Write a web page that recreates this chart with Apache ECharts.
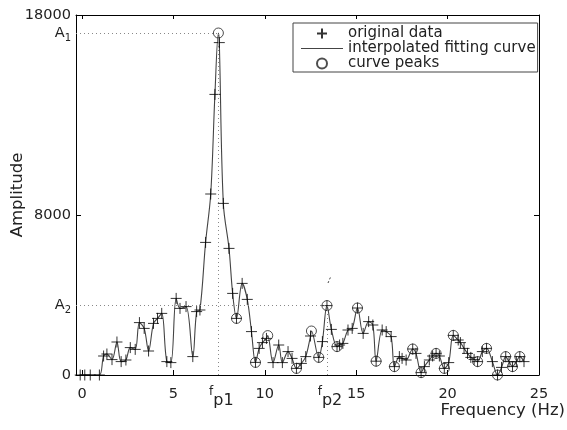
<!DOCTYPE html>
<html>
<head>
<meta charset="utf-8">
<title>Amplitude spectrum</title>
<script src="https://cdn.jsdelivr.net/npm/echarts@6/dist/echarts.min.js"></script>
<style>
  html, body { margin: 0; padding: 0; background: #fff; }
  #EchartsOne { width: 567px; height: 430px; }
</style>
</head>
<body>
<div id="EchartsOne"></div>
<script>
// original data (frequency in Hz, amplitude)
var freqs = [-0.1, 0.15, 0.45, 0.95, 1.18, 1.36, 1.64, 1.91, 2.14, 2.4, 2.64, 2.91, 3.14, 3.4, 3.64, 3.91, 4.13, 4.36, 4.64, 4.86,
  5.15, 5.36, 5.69, 6.06, 6.27, 6.45, 6.76, 7.04, 7.27, 7.51, 7.73, 8.04, 8.24, 8.45, 8.76, 9.04, 9.27, 9.49, 9.69, 9.87,
  10.09, 10.45, 10.76, 10.96, 11.27, 11.49, 11.73, 12.0, 12.24, 12.5, 12.95, 13.15, 13.4, 13.64, 13.95, 14.09, 14.27, 14.55, 14.78, 15.07,
  15.38, 15.68, 15.91, 16.09, 16.42, 16.64, 16.91, 17.09, 17.36, 17.51, 17.73, 18.09, 18.27, 18.55, 18.73, 19.0, 19.18, 19.37, 19.55, 19.82,
  20.06, 20.31, 20.58, 20.7, 20.9, 21.09, 21.27, 21.45, 21.64, 21.9, 22.13, 22.45, 22.73, 22.95, 23.18, 23.36, 23.55, 23.76, 23.95, 24.18];
var amps = [0, 0, 0, 0, 950, 1050, 770, 1650, 670, 750, 1370, 1280, 2620, 2330, 1200, 2580, 2830, 3080, 670, 620,
  3830, 3330, 3420, 920, 3170, 3250, 6630, 9050, 14030, 16620, 8580, 6330, 4080, 2830, 4580, 3780, 2170, 630, 1330, 1620,
  1830, 620, 1500, 620, 1170, 830, 330, 580, 920, 1950, 880, 1670, 3470, 2280, 1420, 1500, 1580, 2250, 2330, 3350,
  2080, 2670, 2500, 690, 2250, 2170, 1920, 420, 920, 830, 750, 1300, 1080, 120, 420, 750, 950, 1080, 950, 330,
  620, 1980, 1750, 1620, 1330, 1080, 880, 780, 670, 1170, 1330, 670, 0, 380, 920, 670, 420, 670, 920, 670];

// curve peaks (circles)
var peakFreqs = [7.46, 8.45, 9.49, 10.16, 11.73, 12.55, 12.95, 13.4, 13.95, 15.07, 16.09, 17.09, 18.09, 18.55, 19.37, 19.82,
  20.31, 21.64, 22.13, 22.73, 23.18, 23.55, 23.95];
var peakAmps = [17100, 2830, 630, 1970, 330, 2200, 880, 3470, 1420, 3350, 690, 420, 1300, 120, 1080, 330,
  1980, 670, 1330, 0, 920, 420, 920];

// marked peaks and axis ticks
var fp1 = 7.46, A1 = 17100;
var fp2 = 13.4, A2 = 3470;
var xTicks = [0, 5, 10, 15, 20, 25];
var yTicks = [0, 8000, 18000];
var xMin = -0.33, xMax = 25, yMin = 0, yMax = 18000;

var plusIcon = "path://M5,0L5,10M0,5L10,5";
var lineIcon = "path://M0,0H42V1.2H0Z";
var font = "DejaVu Sans";

var dataPts = freqs.map(function (f, i) { return [f, amps[i]]; });
var peakPts = peakFreqs.map(function (f, i) { return [f, peakAmps[i]]; });
// the fitting curve passes through the data and the peaks
var curvePts = dataPts.concat(peakPts.filter(function (p) {
  return freqs.indexOf(p[0]) < 0;
})).sort(function (a, b) { return a[0] - b[0]; });

var myChart = echarts.init(document.getElementById("EchartsOne"), null, { renderer: "canvas" });

var option = {
  animation: false,
  backgroundColor: "#fff",
  textStyle: { fontFamily: font, color: "#222" },
  grid: { left: 76, right: 28, top: 15, bottom: 55, containLabel: false, outerBoundsMode: "none" },
  legend: {
    orient: "vertical",
    left: 293,
    top: 23,
    padding: [3, 2, 1, 8],
    itemGap: 0,
    itemWidth: 42,
    itemHeight: 10,
    borderColor: "#444",
    borderWidth: 1,
    textStyle: { fontFamily: font, fontSize: 15, color: "#222", lineHeight: 14.5 },
    data: [
      { name: "original data", icon: plusIcon },
      { name: "interpolated fitting curve", icon: lineIcon },
      { name: "curve peaks", icon: "circle" },
    ],
  },
  xAxis: [
    {
      type: "value",
      position: "bottom",
      min: xMin,
      max: xMax,
      name: "Frequency (Hz)",
      nameLocation: "end",
      nameGap: 26,
      nameMoveOverlap: false,
      nameTextStyle: { fontFamily: font, fontSize: 16.5, color: "#222", align: "right", verticalAlign: "top", padding: [27, 0, 0, 0] },
      axisLine: { show: true, onZero: false, lineStyle: { color: "#000", width: 1 } },
      axisTick: { show: true, inside: true, length: 5, customValues: xTicks, lineStyle: { color: "#000" } },
      splitLine: { show: false },
      axisLabel: {
        customValues: [0, 5, fp1, 10, fp2, 15, 20, 25],
        margin: 11,
        color: "#222",
        formatter: function (v) {
          if (v === fp1) return "{f|f}{p|p1}";
          if (v === fp2) return "{f|f}{p|p2}";
          return "{n|" + v + "}";
        },
        rich: {
          n: { fontFamily: font, fontSize: 14.5, lineHeight: 16, color: "#222" },
          f: { fontFamily: font, fontSize: 12, lineHeight: 12, verticalAlign: "top", color: "#222", padding: [0, 0, 0, 6] },
          p: { fontFamily: font, fontSize: 16, lineHeight: 23, verticalAlign: "bottom", color: "#222" },
        },
      },
    },
    {
      type: "value",
      position: "top",
      min: xMin,
      max: xMax,
      axisLine: { show: true, onZero: false, lineStyle: { color: "#000", width: 1 } },
      axisTick: { show: true, inside: true, length: 4, customValues: xTicks, lineStyle: { color: "#000" } },
      axisLabel: { show: false },
      splitLine: { show: false },
    },
  ],
  yAxis: [
    {
      type: "value",
      position: "left",
      min: yMin,
      max: yMax,
      name: "Amplitude",
      nameLocation: "middle",
      nameGap: 50,
      nameMoveOverlap: false,
      nameTextStyle: { fontFamily: font, fontSize: 16.5, color: "#222" },
      axisLine: { show: true, onZero: false, lineStyle: { color: "#000", width: 1 } },
      axisTick: { show: true, inside: true, length: 5, customValues: yTicks, lineStyle: { color: "#000" } },
      splitLine: { show: false },
      axisLabel: {
        customValues: [0, A2, 8000, A1, 18000],
        margin: 5,
        formatter: function (v) {
          if (v === A1) return "{a|A}{s|1}";
          if (v === A2) return "{a|A}{s|2}";
          return "{n|" + v + "}";
        },
        rich: {
          n: { fontFamily: font, fontSize: 14.5, color: "#222" },
          a: { fontFamily: font, fontSize: 14.5, lineHeight: 20, color: "#222" },
          s: { fontFamily: font, fontSize: 10, lineHeight: 20, verticalAlign: "bottom", color: "#222" },
        },
      },
    },
    {
      type: "value",
      position: "right",
      min: yMin,
      max: yMax,
      axisLine: { show: true, onZero: false, lineStyle: { color: "#000", width: 1 } },
      axisTick: { show: true, inside: true, length: 5, customValues: yTicks, lineStyle: { color: "#000" } },
      axisLabel: { show: false },
      splitLine: { show: false },
    },
  ],
  series: [
    {
      name: "interpolated fitting curve",
      type: "line",
      data: curvePts,
      smooth: 0.35,
      symbol: "none",
      lineStyle: { color: "#444", width: 1.1 },
      itemStyle: { color: "#444" },
      z: 2,
      markLine: {
        silent: true,
        symbol: ["none", "none"],
        label: { show: false },
        lineStyle: { type: [1, 3], color: "#888", width: 1 },
        data: [
          [{ coord: [xMin, A1] }, { coord: [fp1, A1] }],
          [{ coord: [fp1, 0] }, { coord: [fp1, A1] }],
          [{ coord: [xMin, A2] }, { coord: [fp2, A2] }],
          [{ coord: [fp2, 0] }, { coord: [fp2, A2] }],
        ],
      },
    },
    {
      name: "original data",
      type: "scatter",
      data: dataPts,
      symbol: plusIcon,
      symbolSize: 11,
      itemStyle: { color: "transparent", borderColor: "#000", borderWidth: 1 },
      z: 3,
    },
    {
      name: "curve peaks",
      type: "scatter",
      data: peakPts,
      symbol: "circle",
      symbolSize: 10,
      itemStyle: { color: "transparent", borderColor: "#222", borderWidth: 1 },
      z: 4,
    },
  ],
  graphic: [
    // small stray mark above fp2 in the original figure
    { type: "line", shape: { x1: 328, y1: 283, x2: 331, y2: 276 }, style: { stroke: "#444", lineWidth: 1, lineDash: [2, 2] } },
  ],
};

myChart.setOption(option);
</script>
</body>
</html>
